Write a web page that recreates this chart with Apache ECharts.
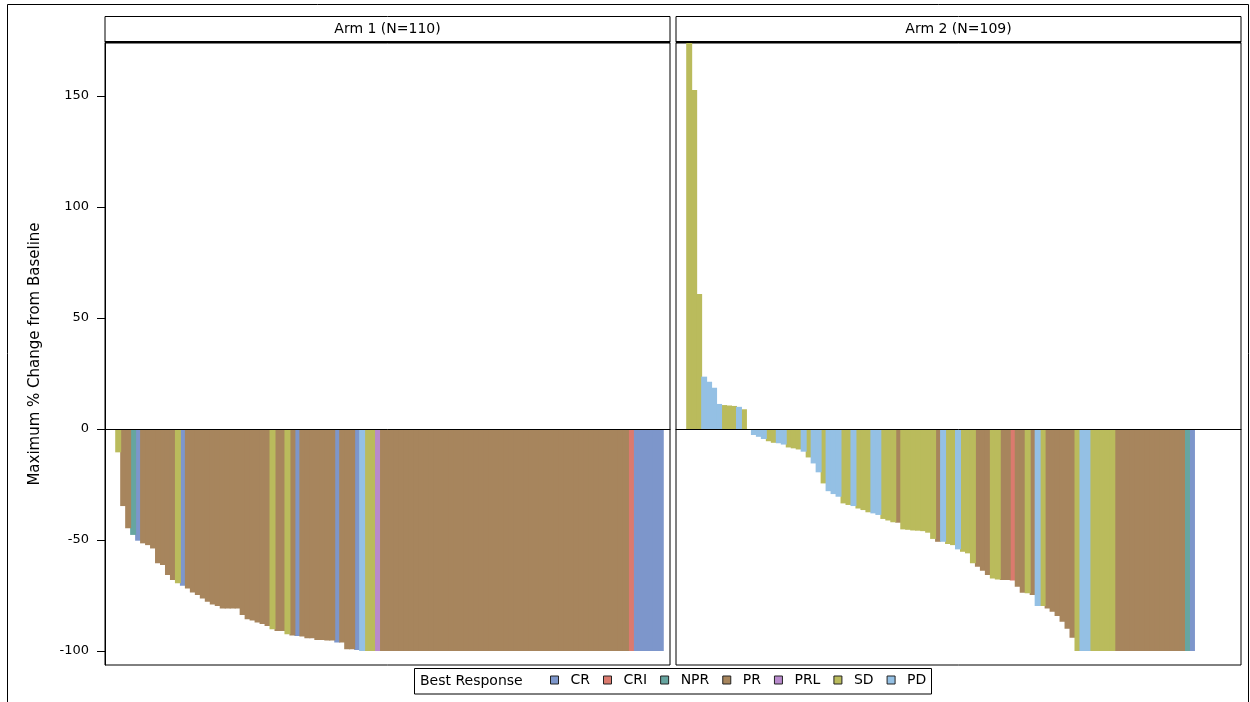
<!DOCTYPE html>
<html>
<head>
<meta charset="utf-8">
<title>Waterfall plot of maximum % change from baseline</title>
<script src="https://cdn.jsdelivr.net/npm/echarts@6/dist/echarts.min.js"></script>
<style>
  html, body { margin: 0; padding: 0; background: #fff; }
  #chart { width: 1250px; height: 702px; }
</style>
</head>
<body>
<div id="chart"></div>
<script>
// Best response categories and their fill colours
const responses = ['CR', 'CRI', 'NPR', 'PR', 'PRL', 'SD', 'PD'];
const responseColors = ['#7D96CB', '#DB7A6E', '#66A5A0', '#A7855D', '#B88ACC', '#BABB5C', '#94C0E4'];

// Panel titles
const panelTitles = ['Arm 1 (N=110)', 'Arm 2 (N=109)'];

// Y axis tick values
const yTicks = [-100, -50, 0, 50, 100, 150];

// Arm 1: best response and maximum % change, one entry per patient (sorted)
const arm1Response = [
  'SD','PR','PR','NPR','CR','PR','PR','PR','PR','PR',
  'PR','PR','SD','CR','PR','PR','PR','PR','PR','PR',
  'PR','PR','PR','PR','PR','PR','PR','PR','PR','PR',
  'PR','SD','PR','PR','SD','PR','CR','PR','PR','PR',
  'PR','PR','PR','PR','CR','PR','PR','PR','CR','PD',
  'SD','SD','PRL','PR','PR','PR','PR','PR','PR','PR',
  'PR','PR','PR','PR','PR','PR','PR','PR','PR','PR',
  'PR','PR','PR','PR','PR','PR','PR','PR','PR','PR',
  'PR','PR','PR','PR','PR','PR','PR','PR','PR','PR',
  'PR','PR','PR','PR','PR','PR','PR','PR','PR','PR',
  'PR','PR','PR','CRI','CR','CR','CR','CR','CR','CR'
];
const arm1Change = [
  -10.5, -34.7, -44.7, -47.7, -50.3, -51.5, -52.3, -53.8, -60.5, -61.3,
  -65.8, -68.0, -69.5, -70.6, -71.8, -73.6, -74.8, -76.3, -77.8, -79.0,
  -79.7, -80.8, -80.8, -80.8, -80.8, -83.8, -85.7, -86.3, -87.1, -87.8,
  -88.7, -90.2, -91.0, -91.0, -92.5, -93.0, -93.2, -93.5, -94.3, -94.3,
  -95.0, -95.0, -95.3, -95.3, -96.2, -96.2, -99.2, -99.2, -99.5, -100,
  -100, -100, -100, -100, -100, -100, -100, -100, -100, -100,
  -100, -100, -100, -100, -100, -100, -100, -100, -100, -100,
  -100, -100, -100, -100, -100, -100, -100, -100, -100, -100,
  -100, -100, -100, -100, -100, -100, -100, -100, -100, -100,
  -100, -100, -100, -100, -100, -100, -100, -100, -100, -100,
  -100, -100, -100, -100, -100, -100, -100, -100, -100, -100
];

// Arm 2: best response and maximum % change for patients with a measurement
const arm2Response = [
  'SD','SD','SD','PD','PD','PD','PD','SD','SD','SD',
  'PD','SD','SD','PD','PD','PD','SD','SD','PD','PD',
  'SD','SD','SD','PD','SD','PD','PD','SD','PD','PD',
  'PD','SD','SD','PD','SD','SD','SD','PD','PD','SD',
  'SD','SD','PR','SD','SD','SD','SD','SD','SD','SD',
  'PR','PD','SD','SD','PD','SD','SD','SD','PR','PR',
  'PR','SD','SD','PR','PR','CRI','PR','PR','SD','PR',
  'PD','SD','PR','PR','PR','PR','PR','PR','SD','PD',
  'PD','SD','SD','SD','SD','SD','PR','PR','PR','PR',
  'PR','PR','PR','PR','PR','PR','PR','PR','PR','PR',
  'NPR','CR'
];
const arm2Change = [
  200, 152.7, 60.8, 23.6, 21.3, 18.6, 11.3, 10.8, 10.6, 10.4,
  10.0, 8.9, 0, -2.7, -3.5, -4.5, -5.5, -6.2, -6.4, -7.0,
  -8.3, -8.7, -9.2, -10.2, -12.8, -15.5, -19.5, -24.5, -28.0, -29.3,
  -30.5, -33.5, -34.2, -34.7, -35.8, -36.5, -37.5, -38.0, -38.7, -40.5,
  -41.2, -42.0, -42.2, -45.2, -45.4, -45.7, -45.8, -46.0, -46.7, -49.5,
  -50.8, -50.8, -51.8, -52.3, -54.2, -55.3, -56.0, -60.5, -62.0, -63.8,
  -65.8, -67.3, -67.8, -68.0, -68.0, -68.2, -71.0, -73.7, -74.0, -74.8,
  -79.7, -79.7, -80.8, -82.3, -84.2, -86.8, -90.0, -94.0, -100, -100,
  -100, -100, -100, -100, -100, -100, -100, -100, -100, -100,
  -100, -100, -100, -100, -100, -100, -100, -100, -100, -100,
  -100, -100
];

// ---- layout ----
const FONT = 'DejaVu Sans';
const PANEL_TOP = 43;
const PANEL_H = 622;
const PANEL_W = 565;
const PANEL_LEFT = [105, 676];
const X_MIN = -1.65, X_MAX = 111.85;
const Y_MIN = -106.3, Y_MAX = 173.9;
// bars are one slot wide; a little overlap hides anti-aliasing seams
const BAR_W = PANEL_W / (X_MAX - X_MIN) + 1;

function armSeries(respList, changeList, axisIndex) {
  return responses.map((r, k) => ({
    name: r,
    type: 'bar',
    xAxisIndex: axisIndex,
    yAxisIndex: axisIndex,
    barWidth: BAR_W,
    barGap: '-100%',
    itemStyle: { color: responseColors[k] },
    emphasis: { disabled: true },
    data: respList
      .map((code, i) => (code === r ? [i + 1, changeList[i]] : null))
      .filter(d => d !== null)
  }));
}

const grids = PANEL_LEFT.map(left => ({
  left: left, top: PANEL_TOP, width: PANEL_W, height: PANEL_H,
  show: true, borderColor: '#000', borderWidth: 1, backgroundColor: 'transparent',
  containLabel: false
}));

const xAxes = [0, 1].map(i => ({
  type: 'value', gridIndex: i, min: X_MIN, max: X_MAX, z: 5,
  axisLine: { show: true, onZero: true, lineStyle: { color: '#000', width: 1 } },
  axisTick: { show: false }, axisLabel: { show: false }, splitLine: { show: false }
}));

const yAxes = [
  {
    type: 'value', gridIndex: 0, min: Y_MIN, max: Y_MAX,
    name: 'Maximum % Change from Baseline',
    nameLocation: 'middle', nameRotate: 90, nameGap: 62,
    nameTextStyle: { fontFamily: FONT, fontSize: 15, color: '#000' },
    axisLine: { show: true, onZero: false, lineStyle: { color: '#000', width: 1 } },
    axisTick: { show: true, length: 8, customValues: yTicks, lineStyle: { color: '#000' } },
    axisLabel: {
      customValues: yTicks, margin: 16, fontFamily: FONT, fontSize: 13, color: '#000',
      formatter: v => (v % 50 === 0 ? String(v) : '')
    },
    splitLine: { show: false }
  },
  {
    type: 'value', gridIndex: 1, min: Y_MIN, max: Y_MAX,
    axisLine: { show: false, onZero: false }, axisTick: { show: false }, axisLabel: { show: false },
    splitLine: { show: false }
  }
];

// panel header strips, outer frame and legend box
const graphics = [
  { type: 'rect', z: -1, shape: { x: 7.5, y: 4.5, width: 1241, height: 720 },
    style: { fill: '#fff', stroke: '#000', lineWidth: 1 } }
];
PANEL_LEFT.forEach((left, i) => {
  graphics.push({ type: 'rect', shape: { x: left, y: 16.5, width: PANEL_W, height: 26 },
    style: { fill: '#fff', stroke: '#000', lineWidth: 1 } });
  graphics.push({ type: 'line', shape: { x1: left, y1: 42, x2: left + PANEL_W, y2: 42 },
    style: { stroke: '#000', lineWidth: 2 } });
  graphics.push({ type: 'text', x: left + PANEL_W / 2, y: 29.5,
    style: { text: panelTitles[i], fill: '#000', font: '14px "' + FONT + '"',
      textAlign: 'center', textVerticalAlign: 'middle' } });
});
graphics.push({ type: 'rect', z: 0, shape: { x: 414.5, y: 668.5, width: 517, height: 25.5 },
  style: { fill: '#fff', stroke: '#000', lineWidth: 1 } });
graphics.push({ type: 'text', x: 420, y: 681.5,
  style: { text: 'Best Response', fill: '#000', font: '14px "' + FONT + '"',
    textAlign: 'left', textVerticalAlign: 'middle' } });

const option = {
  animation: false,
  backgroundColor: '#fff',
  grid: grids,
  xAxis: xAxes,
  yAxis: yAxes,
  legend: {
    data: responses, left: 550, top: 673, padding: 0,
    itemWidth: 8, itemHeight: 8, itemGap: 13, icon: 'rect', selectedMode: false,
    itemStyle: { borderColor: '#222', borderWidth: 1 },
    textStyle: { fontFamily: FONT, fontSize: 14, color: '#000', padding: [0, 0, 0, 7] }
  },
  graphic: graphics,
  series: [
    ...armSeries(arm1Response, arm1Change, 0),
    ...armSeries(arm2Response, arm2Change, 1)
  ]
};

const chart = echarts.init(document.getElementById('chart'), null, { renderer: 'canvas' });
chart.setOption(option);
</script>
</body>
</html>
